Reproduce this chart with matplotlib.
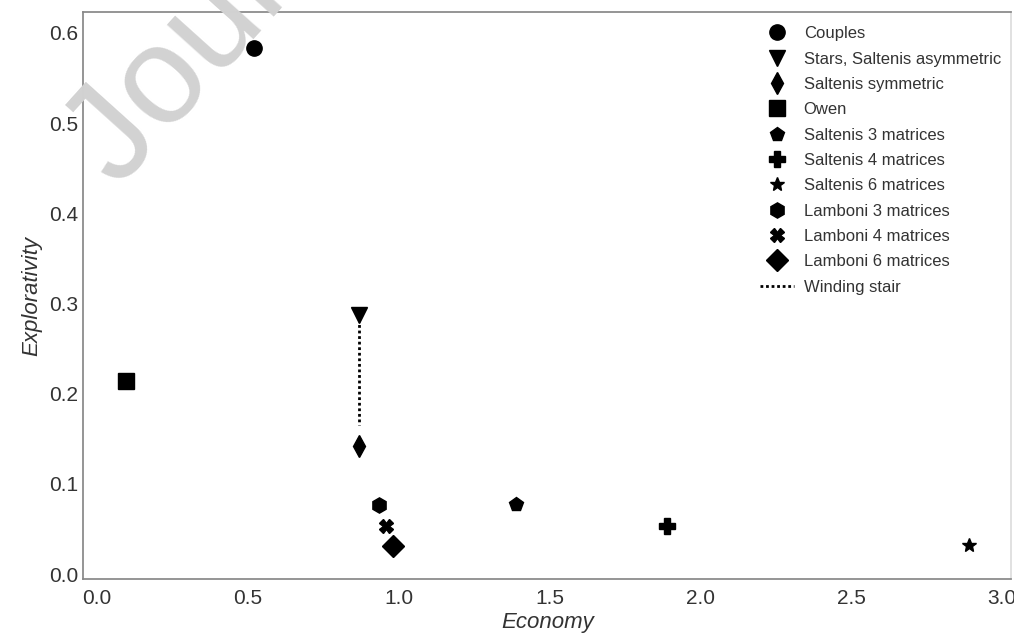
import matplotlib.pyplot as plt
import numpy as np

labels = ['Couples', 'Stars, Saltenis asymmetric', 'Saltenis symmetric', 'Owen',
          'Saltenis 3 matrices', 'Saltenis 4 matrices', 'Saltenis 6 matrices',
          'Lamboni 3 matrices', 'Lamboni 4 matrices', 'Lamboni 6 matrices']
economy = [0.522, 0.869, 0.869, 0.096, 1.39, 1.89, 2.89, 0.935, 0.958, 0.981]
explorativity = [0.583, 0.287, 0.142, 0.214, 0.078, 0.053, 0.032, 0.077, 0.053, 0.031]
markers = ['o', 'v', 'd', 's', 'p', 'P', '*', 'h', 'X', 'D']
sizes = [11, 11, 11, 11, 10, 11, 10, 11, 10, 11]

stair_x = [0.869, 0.869]
stair_y = [0.283, 0.165]

plt.style.use('seaborn-v0_8-white')
plt.rcParams['font.family'] = ['Liberation Sans', 'DejaVu Sans']

fig = plt.figure(figsize=(10.14, 6.35), dpi=100)
ax = fig.add_axes([0.0819, 0.088, 0.9155, 0.893])

# watermark from the source page
fig.text(118 / 1014, 1 - 190 / 635, 'Journal Pre-proof', fontsize=100, color='#d2d2d2',
         rotation=48, rotation_mode='anchor', ha='left', va='baseline', zorder=0)

for lab, xv, yv, m, s in zip(labels, economy, explorativity, markers, sizes):
    ax.plot(xv, yv, linestyle='none', marker=m, markersize=s, color='black', label=lab)
ax.plot(stair_x, stair_y, linestyle=(0, (1, 1)), linewidth=2, color='black', label='Winding stair')

ax.set_xlim(-0.046, 3.03)
ax.set_ylim(-0.0055, 0.623)
ax.set_xticks(np.arange(0, 3.01, 0.5))
ax.set_yticks(np.arange(0, 0.61, 0.1))
ax.tick_params(labelsize=15, colors='#333333')
ax.tick_params(axis='x', pad=7)
ax.set_xlabel('Economy', fontsize=16, style='italic', color='#333333', labelpad=3)
ax.set_ylabel('Explorativity', fontsize=16, style='italic', color='#333333', labelpad=5)
for sp in ax.spines.values():
    sp.set_color('#888888')
ax.spines['right'].set_color('#dddddd')
ax.patch.set_alpha(0)

ax.legend(loc='upper right', fontsize=12, frameon=False, bbox_to_anchor=(1.004, 1.0),
          handletextpad=0.6, labelspacing=0.62, handlelength=2.0, labelcolor='#333333',
          borderaxespad=0.45)

fig.savefig('out.png', dpi=100)
